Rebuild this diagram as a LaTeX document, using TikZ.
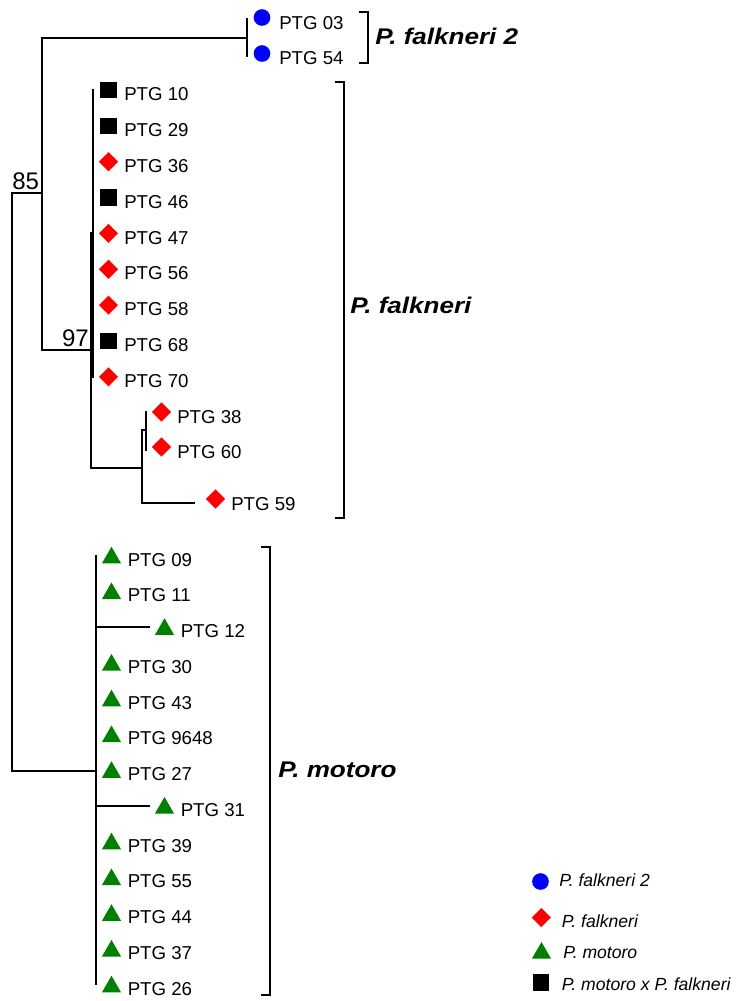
\documentclass[tikz,border=0pt]{standalone}
\usepackage{fontspec}
\setmainfont{Liberation Sans}
\newfontfamily\cladefont[FakeStretch=1.15]{Liberation Sans}
\usepackage{tikz}
\usetikzlibrary{positioning,shapes.geometric}
\definecolor{fkblue}{RGB}{0,0,255}
\definecolor{fkred}{RGB}{255,0,0}
\definecolor{motgreen}{RGB}{0,128,0}
\tikzset{
  branch/.style={line width=1.4pt,line cap=rect},
  bracketline/.style={line width=1.5pt},
  fktwo/.style={circle,fill=fkblue,inner sep=0pt,minimum size=12.5pt},
  fk/.style={diamond,fill=fkred,inner sep=0pt,minimum size=14.5pt},
  mot/.style={regular polygon,regular polygon sides=3,fill=motgreen,inner sep=0pt,minimum size=16.5pt},
  hyb/.style={rectangle,fill=black,inner sep=0pt,minimum size=12.5pt}
}

\begin{document}
\begin{tikzpicture}[
  x=0.75pt,y=-0.75pt,
  tiplab/.style={font=\fontsize{14}{16}\selectfont,anchor=west,inner sep=0pt,text height=10pt,text depth=0pt},
  cladelab/.style={font=\fontsize{17}{20}\cladefont\bfseries\itshape,anchor=west,inner sep=0pt,text height=12.2pt,text depth=0pt},
  keylab/.style={font=\fontsize{13.2}{16}\selectfont\itshape,anchor=west,inner sep=0pt,text height=9.45pt,text depth=0pt},
  bootlab/.style={font=\fontsize{18}{20}\selectfont,inner sep=0pt,text height=12.9pt,text depth=0pt}
]
\useasboundingbox (0,0) rectangle (737,1001);

% internal nodes
\coordinate (root)  at (12,480);
\coordinate (n85)   at (42,193);
\coordinate (nF2)   at (247,38);
\coordinate (n97)   at (91,350);
\coordinate (nPoly) at (93,233);
\coordinate (nSub)  at (142,468);
\coordinate (nPair) at (146,430);
\coordinate (nMot)  at (96,771);

\draw[branch] (root) |- (n85)
              (root) |- (nMot)
              (n85) |- (nF2)
              (n85) |- (n97)
              (n97) |- (nPoly)
              (n97) |- (nSub)
              (nSub) |- (nPair);

\node[bootlab,anchor=south west] (b85) at (12,190) {85};
\node[bootlab,anchor=south east] (b97) at (89,347) {97};

% P. falkneri 2
\coordinate (t03) at (247,19);
\coordinate (t54) at (247,56);
\draw[branch] (nF2) |- (t03) (nF2) |- (t54);
\node[fktwo] (m03) at (262,17.5) {};
\node[fktwo] (m54) at (262,53.5) {};
\node[tiplab] (l03) at (279,22.5) {PTG 03};
\node[tiplab] (l54) at (279,57.5) {PTG 54};

% P. falkneri, upper polytomy
\foreach \id/\sh/\i in {10/hyb/0,29/hyb/1,36/fk/2,46/hyb/3,47/fk/4,56/fk/5,58/fk/6,68/hyb/7,70/fk/8}{
  \pgfmathsetmacro\ty{94+35.85*\i}
  \coordinate (t\id) at (93,\ty-4);
  \draw[branch] (nPoly) |- (t\id);
  \node[\sh] (m\id) at (108.5,\ty-4) {};
  \node[tiplab] (l\id) at (124,\ty) {PTG \id};
}

% P. falkneri, lower clade
\coordinate (t38) at (146,412);
\coordinate (t60) at (146,450);
\coordinate (t59) at (194,503);
\draw[branch] (nPair) |- (t38)
              (nPair) |- (t60)
              (nSub) |- (t59);
\node[fk] (m38) at (161.5,412) {};
\node[fk] (m60) at (161.5,447) {};
\node[fk] (m59) at (215.5,499) {};
\node[tiplab] (l38) at (177,416.5) {PTG 38};
\node[tiplab] (l60) at (177,452) {PTG 60};
\node[tiplab] (l59) at (231,503.5) {PTG 59};

% P. motoro
\foreach \id/\i/\off in {09/0/0,11/1/0,12/2/53,30/3/0,43/4/0,9648/5/0,27/6/0,31/7/53,39/8/0,55/9/0,44/10/0,37/11/0,26/12/0}{
  \pgfmathsetmacro\ty{559.5+35.75*\i}
  \coordinate (t\id) at (96+\off,\ty-4);
  \draw[branch] (nMot) |- (t\id);
  \node[mot] (m\id) at (111.5+\off,\ty-1.75) {};
  \node[tiplab] (l\id) at (127.5+\off,\ty) {PTG \id};
}

% clade brackets
\coordinate (kF2a) at (368,12);
\coordinate (kF2b) at (368,63);
\coordinate (kFa)  at (344,82);
\coordinate (kFb)  at (344,518);
\coordinate (kMa)  at (270,547);
\coordinate (kMb)  at (270,995);
\draw[bracketline] ([xshift=-7pt]kF2a) -- (kF2a) -- (kF2b) -- ([xshift=-7pt]kF2b);
\draw[bracketline] ([xshift=-7pt]kFa) -- (kFa) -- (kFb) -- ([xshift=-7pt]kFb);
\draw[bracketline] ([xshift=-7pt]kMa) -- (kMa) -- (kMb) -- ([xshift=-7pt]kMb);

\node[cladelab] (cF2) at (375,36) {P. falkneri 2};
\node[cladelab] (cF)  at (350,305.5) {P. falkneri};
\node[cladelab] (cM)  at (278,769) {P. motoro};

% legend
\node[fktwo] (k1) at (540.5,881.5) {};
\node[fk]    (k2) at (541.3,917.5) {};
\node[mot]   (k3) at (541.5,953) {};
\node[hyb]   (k4) at (541,982.5) {};
\node[keylab] (kl1) at (559,880) {P. falkneri 2};
\node[keylab] (kl2) at (561.7,921) {P. falkneri};
\node[keylab] (kl3) at (563,952.5) {P. motoro};
\node[keylab] (kl4) at (561.7,984) {P. motoro x P. falkneri};

\end{tikzpicture}
\end{document}
